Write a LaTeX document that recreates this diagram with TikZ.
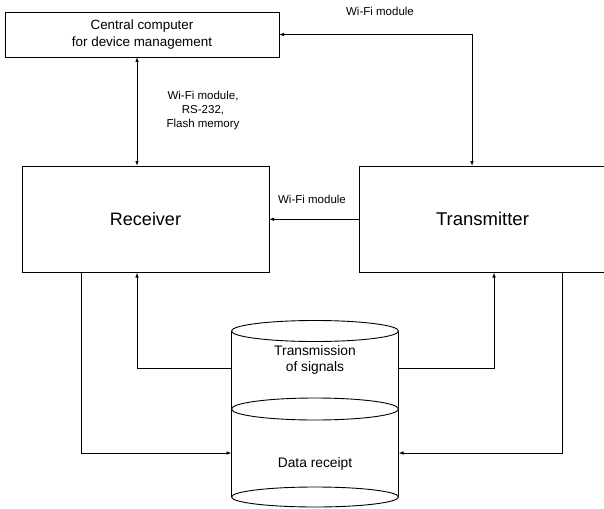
\documentclass[tikz,border=0pt]{standalone}
\usepackage{fontspec}
\setmainfont{Liberation Sans}
\usetikzlibrary{arrows.meta}
\begin{document}
\begin{tikzpicture}[x=1pt,y=-1pt,line width=0.9pt,
  box/.style={draw,rectangle,inner sep=0pt,outer sep=0pt},
  tip/.style={-{Latex[length=5pt,width=3.6pt]}},
  tips/.style={{Latex[length=5pt,width=3.6pt]}-{Latex[length=5pt,width=3.6pt]}},
  lbl/.style={font=\fontsize{11.5}{14}\selectfont,align=center,inner sep=0pt},
  cyltext/.style={font=\fontsize{13.8}{16}\selectfont,align=center,inner sep=0pt}]
\useasboundingbox (0,0) rectangle (604,508);
% boxes
\node[box,minimum width=274pt,minimum height=45pt,align=center,
      font=\fontsize{13.4}{17}\selectfont] (cc) at (142,34.5) {Central computer\\for device management};
\node[box,minimum width=247pt,minimum height=106.5pt,font=\fontsize{18}{20}\selectfont] (rec) at (145.5,219.25) {Receiver};
\node[box,minimum width=247pt,minimum height=106.5pt,font=\fontsize{18.5}{20}\selectfont] (tx) at (482.5,219.25) {Transmitter};
% cylinder
\draw (231.5,331) -- (231.5,497);
\draw (398.5,331) -- (398.5,497);
\draw[fill=white] (315,331) ellipse [x radius=83.5, y radius=10.5];
\draw[fill=white] (315,409) ellipse [x radius=83.5, y radius=11];
\draw[fill=white] (315,497) ellipse [x radius=83.5, y radius=10];
\node[cyltext] (ts) at (315,360) {Transmission\\of signals};
\node[cyltext] (dr) at (315,464) {Data receipt};
% helper coordinates
\coordinate (a1) at (137,0);
\coordinate (tx1) at (472,0);
\coordinate (x81) at (81,0);
\coordinate (x494) at (494,0);
\coordinate (x562) at (562,0);
\coordinate (cl1) at (231.5,368);
\coordinate (cr1) at (398.5,368);
\coordinate (cl2) at (231.5,453);
\coordinate (cr2) at (398.5,453);
% connectors
\draw[tips] (cc.south -| a1) -- (rec.north -| a1);
\draw[tips] (cc.east) -- (cc.east -| tx1) -- (tx.north -| tx1);
\draw[tip] (tx.west) -- (rec.east);
\draw[tip] (rec.south -| x81) |- (cl2);
\draw[tip] (cl1) -| (rec.south -| a1);
\draw[tip] (cr1) -| (tx.south -| x494);
\draw[tip] (tx.south -| x562) |- (cr2);
% labels
\node[lbl] (l1) at (380,11) {Wi-Fi module};
\node[lbl] (l2) at (203,111) {Wi-Fi module,\\RS-232,\\Flash memory};
\node[lbl] (l3) at (312,199) {Wi-Fi module};
\end{tikzpicture}
\end{document}
